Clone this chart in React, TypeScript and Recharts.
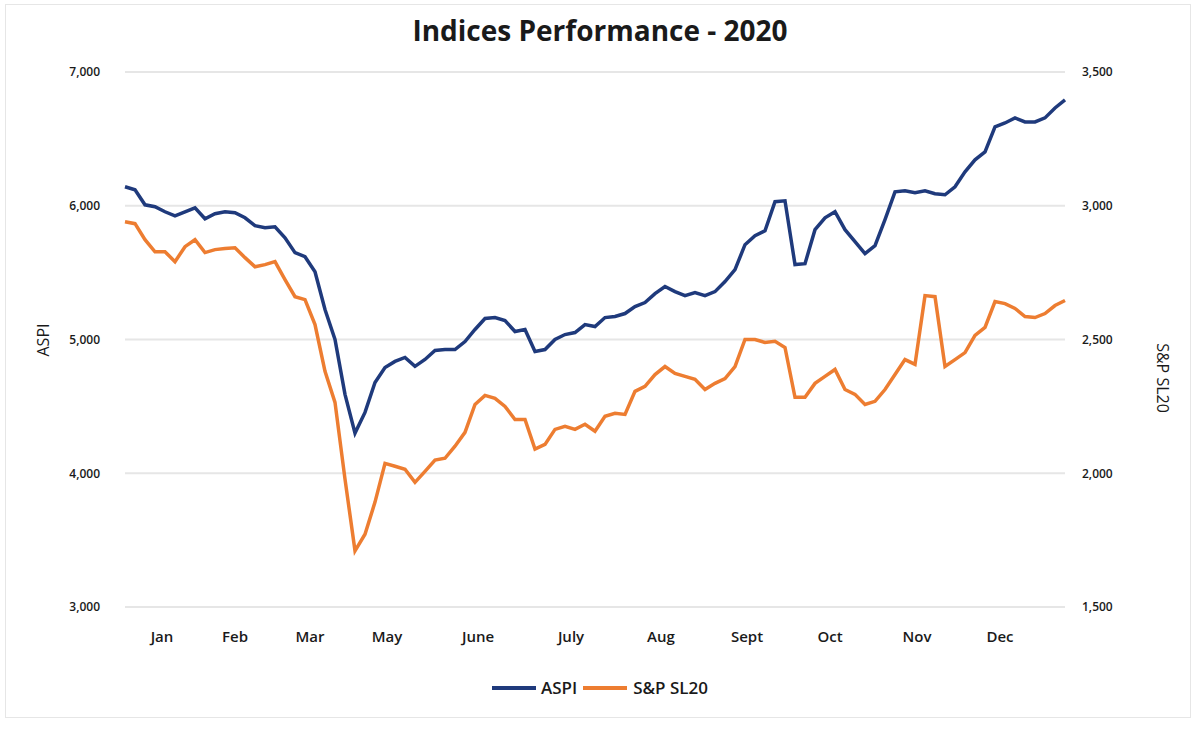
import { LineChart, Line, XAxis, YAxis, CartesianGrid } from "recharts";

// trading-day index for each month label (April had no trading)
const monthLabels = ["Jan", "Feb", "Mar", "May", "June", "July", "Aug", "Sept", "Oct", "Nov", "Dec"];
const monthTicks = [3.7, 11, 18.5, 26.2, 35.3, 44.6, 53.6, 62.2, 70.5, 79.2, 87.5];

const aspiTicks = [3000, 4000, 5000, 6000, 7000];
const sl20Ticks = [1500, 2000, 2500, 3000, 3500];

const aspi = [
  6142, 6119, 6007, 5993, 5955, 5925, 5955, 5985, 5903, 5940,
  5955, 5948, 5910, 5851, 5836, 5843, 5761, 5649, 5619, 5507,
  5224, 5000, 4590, 4300, 4455, 4679, 4791, 4836, 4866, 4799,
  4851, 4918, 4925, 4925, 4985, 5075, 5157, 5164, 5142, 5060,
  5075, 4910, 4925, 5000, 5037, 5052, 5112, 5097, 5164, 5172,
  5194, 5246, 5276, 5343, 5396, 5358, 5328, 5351, 5328, 5358,
  5433, 5522, 5709, 5776, 5813, 6030, 6037, 5560, 5567, 5821,
  5910, 5955, 5821, 5731, 5642, 5701, 5896, 6104, 6112, 6097,
  6112, 6090, 6082, 6142, 6254, 6343, 6403, 6590, 6619, 6657,
  6627, 6627, 6657, 6731, 6791,
];

const sl20 = [
  2940, 2933, 2873, 2828, 2828, 2791, 2847, 2873, 2825, 2836,
  2840, 2843, 2806, 2772, 2780, 2791, 2724, 2660, 2649, 2556,
  2381, 2265, 1978, 1710, 1772, 1892, 2037, 2026, 2015, 1966,
  2007, 2049, 2056, 2101, 2153, 2257, 2291, 2280, 2250, 2201,
  2201, 2090, 2108, 2164, 2175, 2164, 2183, 2157, 2213, 2224,
  2220, 2306, 2325, 2369, 2399, 2373, 2362, 2351, 2313, 2336,
  2354, 2399, 2500, 2500, 2489, 2493, 2470, 2284, 2284, 2336,
  2362, 2388, 2313, 2295, 2257, 2269, 2313, 2369, 2425, 2407,
  2664, 2660, 2399, 2425, 2451, 2515, 2545, 2642, 2634, 2616,
  2586, 2582, 2597, 2627, 2646,
];

const data = aspi.map((v, i) => ({ idx: i, aspi: v, sl20: sl20[i] }));

const BLUE = "#1f3a7c";
const ORANGE = "#ed7d31";
const font = "'Open Sans', 'Liberation Sans', sans-serif";
const fmt = (v: number) => v.toLocaleString("en-US");

export default function App() {
  return (
    <div
      style={{
        position: "absolute",
        left: 0,
        top: 0,
        width: 1200,
        height: 750,
        background: "#fff",
        fontFamily: font,
      }}
    >
      <div
        style={{
          position: "absolute",
          left: 5,
          top: 4,
          width: 1184,
          height: 712,
          border: "1px solid #e6e6e6",
        }}
      />
      <div
        style={{
          position: "absolute",
          top: 11,
          width: 1200,
          textAlign: "center",
          fontSize: 28,
          fontWeight: 700,
          color: "#1a1a1a",
        }}
      >
        Indices Performance - 2020
      </div>

      <LineChart
        width={1200}
        height={750}
        data={data}
        margin={{ top: 72, right: 75, left: 65, bottom: 113 }}
        style={{ position: "absolute", left: 0, top: 0 }}
      >
        <CartesianGrid yAxisId="left" vertical={false} stroke="#e6e6e6" strokeWidth={2} />
        <XAxis
          dataKey="idx"
          type="number"
          domain={[0, 94]}
          ticks={monthTicks}
          tickFormatter={(v: number) => monthLabels[monthTicks.indexOf(v)]}
          axisLine={false}
          tickLine={false}
          tickSize={0}
          tickMargin={24}
          height={30}
          tick={{ fill: "#1a1a1a", fontSize: 15, fontWeight: 600, fontFamily: font }}
        />
        <YAxis
          yAxisId="left"
          domain={[3000, 7000]}
          ticks={aspiTicks}
          tickFormatter={fmt}
          axisLine={false}
          tickLine={false}
          tickSize={0}
          tickMargin={25}
          width={60}
          tick={{ fill: "#1a1a1a", fontSize: 12, fontWeight: 600, fontFamily: font }}
        />
        <YAxis
          yAxisId="right"
          orientation="right"
          domain={[1500, 3500]}
          ticks={sl20Ticks}
          tickFormatter={fmt}
          axisLine={false}
          tickLine={false}
          tickSize={0}
          tickMargin={17}
          width={60}
          tick={{ fill: "#1a1a1a", fontSize: 12, fontWeight: 600, fontFamily: font }}
        />
        <Line
          yAxisId="left"
          dataKey="aspi"
          type="linear"
          stroke={BLUE}
          strokeWidth={3.5}
          dot={false}
          isAnimationActive={false}
        />
        <Line
          yAxisId="right"
          dataKey="sl20"
          type="linear"
          stroke={ORANGE}
          strokeWidth={3.5}
          dot={false}
          isAnimationActive={false}
        />
      </LineChart>

      <div
        style={{
          position: "absolute",
          left: 43,
          top: 340,
          transform: "translate(-50%, -50%) rotate(-90deg)",
          fontSize: 16,
          color: "#1a1a1a",
          whiteSpace: "nowrap",
        }}
      >
        ASPI
      </div>
      <div
        style={{
          position: "absolute",
          left: 1163,
          top: 378,
          transform: "translate(-50%, -50%) rotate(90deg)",
          fontSize: 16,
          color: "#1a1a1a",
          whiteSpace: "nowrap",
        }}
      >
        S&amp;P SL20
      </div>

      <div
        style={{
          position: "absolute",
          top: 676,
          left: 0,
          width: 1200,
          display: "flex",
          justifyContent: "center",
          alignItems: "center",
          fontSize: 17,
          fontWeight: 600,
          color: "#1a1a1a",
        }}
      >
        <span style={{ width: 44, height: 4, background: BLUE, marginRight: 5 }} />
        <span style={{ marginRight: 6 }}>ASPI</span>
        <span style={{ width: 44, height: 4, background: ORANGE, marginRight: 6 }} />
        <span>S&amp;P SL20</span>
      </div>
    </div>
  );
}
